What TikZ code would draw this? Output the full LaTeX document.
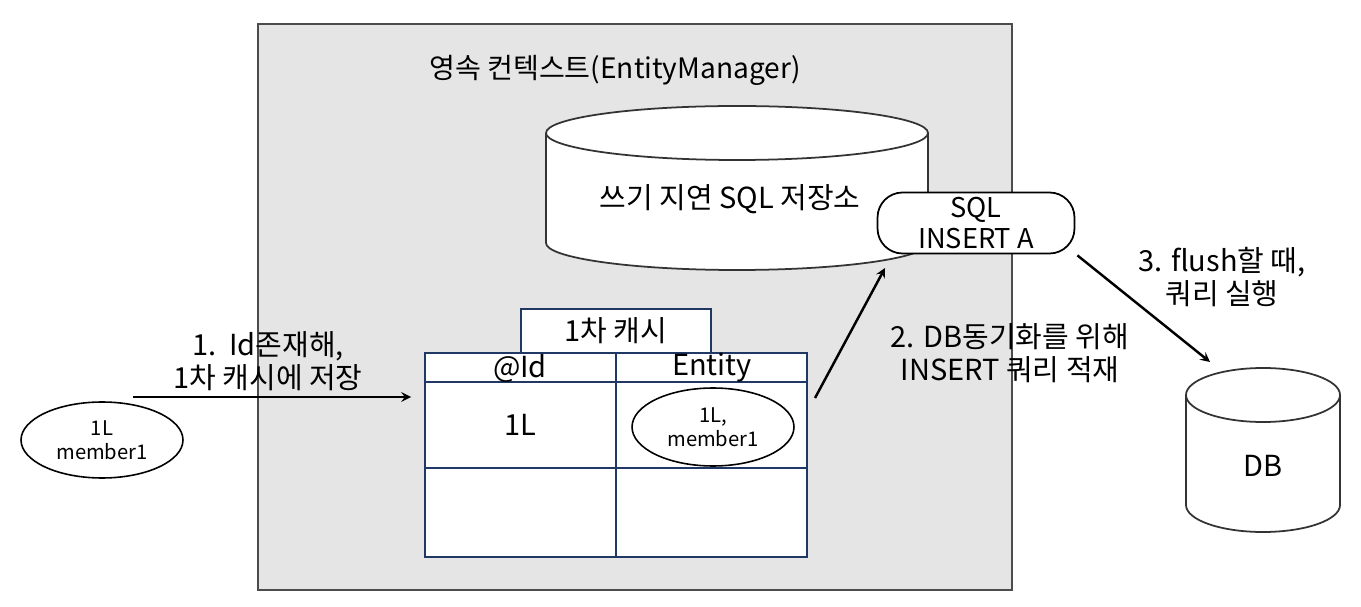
\documentclass[tikz,border=0pt]{standalone}
\usepackage{fontspec}
\setmainfont{Noto Sans CJK KR}
\usepackage{xcolor}
\usetikzlibrary{arrows}
\usetikzlibrary{shapes.geometric}
\definecolor{ctxgray}{HTML}{E5E5E5}
\definecolor{tblue}{HTML}{1F3864}
\tikzset{
  lbl/.style={align=center, inner sep=0pt, font=\fontsize{16.5}{18.5}\selectfont},
  cell/.style={draw=tblue, line width=1.2pt, fill=white},
  ent/.style={draw, ellipse, fill=white, line width=0.9pt, align=center, inner sep=0pt, font=\fontsize{11.5}{13.5}\selectfont},
  flow/.style={-stealth, line width=1.4pt},
}

\begin{document}
\begin{tikzpicture}[x=0.02cm,y=-0.02cm]
\useasboundingbox (0,0) rectangle (1361,607);
\filldraw[fill=ctxgray, draw=black!70, line width=1pt] (258,24) rectangle (1012,590);
\node[lbl, font=\fontsize{16}{18}\selectfont] (ctx) at (615,70) {영속 컨텍스트(EntityManager)};

% write-behind store
\filldraw[fill=white, draw=black!80, line width=1pt] (737,243) ellipse (191 and 27);
\fill[white] (546,133) rectangle (928,243);
\draw[black!80, line width=1pt] (546,133) -- (546,243) (928,133) -- (928,243);
\filldraw[fill=white, draw=black!80, line width=1pt] (737,133) ellipse (191 and 27);
\node[lbl] (store) at (730,199) {쓰기 지연 SQL 저장소};
\node[draw, fill=white, line width=1pt, rounded corners=0.5cm, minimum width=3.94cm, minimum height=1.22cm, lbl, font=\fontsize{15.5}{18}\selectfont] (sql) at (976,223) {SQL\\INSERT A};

% 1st level cache
\filldraw[cell] (521,309) rectangle (711,353);
\filldraw[cell] (425,353) rectangle (807,557);
\draw[tblue, line width=1.2pt] (616,353) -- (616,557) (425,382) -- (807,382) (425,468) -- (807,468);
\node[lbl] (cache) at (616,331) {1차 캐시};
\node[lbl] (idh) at (520,368) {@Id};
\node[lbl] (enth) at (712,368) {Entity};
\node[lbl] (id1) at (520,425) {1L};
\node[ent, minimum width=3.24cm, minimum height=1.56cm] (ent1) at (713,427) {1L,\\member1};

% member and DB
\node[ent, minimum width=3.24cm, minimum height=1.52cm] (member) at (102,440) {1L\\member1};
\filldraw[fill=white, draw=black!80, line width=1pt] (1263,505) ellipse (77 and 27);
\fill[white] (1186,395) rectangle (1340,505);
\draw[black!80, line width=1pt] (1186,395) -- (1186,505) (1340,395) -- (1340,505);
\filldraw[fill=white, draw=black!80, line width=1pt] (1263,395) ellipse (77 and 27);
\node[lbl] (db) at (1263,466) {DB};

% steps
\coordinate (s1a) at (133,397);
\coordinate (s1b) at (411,397);
\coordinate (s2a) at (815,398);
\coordinate (s2b) at (885,268);
\coordinate (s3b) at (1210,362);
\draw[flow] (s1a) -- (s1b);
\draw[flow] (s2a) -- (s2b);
\draw[flow] ([shift={(2,1)}]sql.south east) -- (s3b);
\node[lbl] (step1) at (268,361) {1.\ \ Id존재해,\\1차 캐시에 저장};
\node[lbl] (step2) at (1010,353) {2. DB동기화를 위해\\INSERT 쿼리 적재};
\node[lbl] (step3) at (1222,277) {3. flush할 때,\\쿼리 실행};
\end{tikzpicture}
\end{document}
